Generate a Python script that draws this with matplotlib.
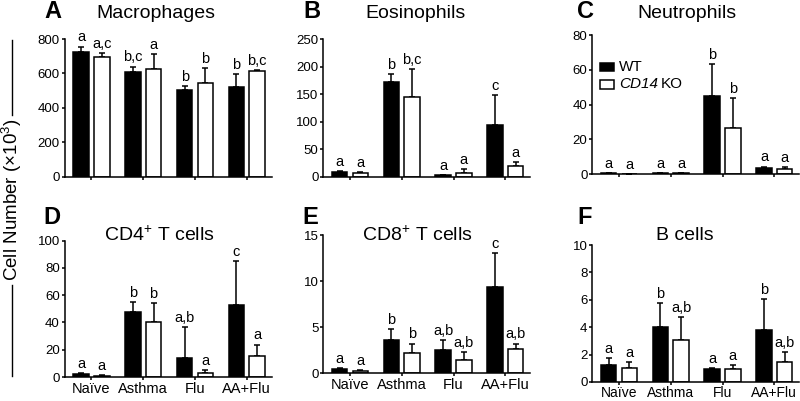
import matplotlib
matplotlib.use("Agg")
import matplotlib.pyplot as plt
from matplotlib.patches import Rectangle
from matplotlib.lines import Line2D
import numpy as np

plt.rcParams['font.family'] = ['Liberation Sans', 'DejaVu Sans']
plt.rcParams['mathtext.fontset'] = 'custom'
plt.rcParams['mathtext.rm'] = 'Liberation Sans'
plt.rcParams['mathtext.it'] = 'Liberation Sans:italic'

categories = ["Naïve", "Asthma", "Flu", "AA+Flu"]

# Panel A: Macrophages
mac_wt = [727, 610, 504, 523]
mac_wt_err = [29, 30, 25, 72]
mac_ko = [698, 624, 543, 614]
mac_ko_err = [19, 88, 87, 4]
mac_wt_lab = ["a", "b,c", "b", "b"]
mac_ko_lab = ["a,c", "a", "b", "b,c"]

# Panel B: Eosinophils
eos_wt = [8, 172, 2.4, 93]
eos_wt_err = [2, 15, 1.2, 55]
eos_ko = [7, 145, 6.7, 20]
eos_ko_err = [1.5, 51, 8, 7]
eos_wt_lab = ["a", "b", "a", "c"]
eos_ko_lab = ["a", "b,c", "a", "a"]

# Panel C: Neutrophils
neu_wt = [0.3, 0.3, 44.7, 3.5]
neu_wt_err = [0.2, 0.1, 18.8, 0.8]
neu_ko = [0.1, 0.4, 26.7, 2.7]
neu_ko_err = [0.05, 0.2, 16.9, 1.4]
neu_wt_lab = ["a", "a", "b", "a"]
neu_ko_lab = ["a", "a", "b", "a"]

# Panel D: CD4+ T cells
cd4_wt = [2.2, 47.5, 14.0, 53.0]
cd4_wt_err = [0.9, 7.3, 22.8, 31.8]
cd4_ko = [1.0, 40.5, 3.3, 15.5]
cd4_ko_err = [0.4, 14.0, 1.5, 8.3]
cd4_wt_lab = ["a", "b", "a,b", "c"]
cd4_ko_lab = ["a", "b", "a", "a"]

# Panel E: CD8+ T cells
cd8_wt = [0.44, 3.63, 2.54, 9.37]
cd8_wt_err = [0.11, 1.13, 1.02, 3.63]
cd8_ko = [0.22, 2.14, 1.38, 2.58]
cd8_ko_err = [0.07, 1.06, 0.87, 0.62]
cd8_wt_lab = ["a", "b", "a,b", "c"]
cd8_ko_lab = ["a", "b", "a,b", "a,b"]

# Panel F: B cells
bc_wt = [1.21, 4.0, 0.97, 3.8]
bc_wt_err = [0.53, 1.74, 0.07, 2.25]
bc_ko = [1.04, 3.1, 0.92, 1.45]
bc_ko_err = [0.41, 1.62, 0.29, 0.73]
bc_wt_lab = ["a", "b", "a", "b"]
bc_ko_lab = ["a", "a,b", "a", "a,b"]

series_names = ["WT", "KO"]

panels = [
    ("A", "Macrophages", mac_wt, mac_wt_err, mac_ko, mac_ko_err, mac_wt_lab, mac_ko_lab, 800, 200, (64.5, 176.7, 39), False),
    ("B", "Eosinophils", eos_wt, eos_wt_err, eos_ko, eos_ko_err, eos_wt_lab, eos_ko_lab, 250, 50, (323, 176.7, 39), False),
    ("C", "Neutrophils", neu_wt, neu_wt_err, neu_ko, neu_ko_err, neu_wt_lab, neu_ko_lab, 80, 20, (592, 174, 35), False),
    ("D", "CD4$^{+}$ T cells", cd4_wt, cd4_wt_err, cd4_ko, cd4_ko_err, cd4_wt_lab, cd4_ko_lab, 100, 20, (64.5, 377, 240.7), True),
    ("E", "CD8$^{+}$ T cells", cd8_wt, cd8_wt_err, cd8_ko, cd8_ko_err, cd8_wt_lab, cd8_ko_lab, 15, 5, (323, 373, 235), True),
    ("F", "B cells", bc_wt, bc_wt_err, bc_ko, bc_ko_err, bc_wt_lab, bc_ko_lab, 10, 2, (592, 382, 245), True),
]

W, H = 800, 401
fig = plt.figure(figsize=(8, 4.01), dpi=100)

xmin, xmax = -0.52, 3.48
unit_px = 51.8
ax_w = (xmax - xmin) * unit_px

title_pos = {"A": (156, 14), "B": (415, 14), "C": (687, 14),
             "D": (159, 235), "E": (417, 235), "F": (685, 235)}
letter_pos = {"A": (53, 11), "B": (312, 11), "C": (586, 11),
              "D": (52, 218), "E": (310, 217), "F": (585, 217)}

x = np.arange(len(categories))
off = 0.2
bw = 0.30
lw = 1.1

for (letter, title, wt, wte, ko, koe, wl, kl, ymax, step, (lpx, y0, ytop), bottom) in panels:
    ax = fig.add_axes([lpx / W, 1 - y0 / H, ax_w / W, (y0 - ytop) / H])
    ax.bar(x - off, wt, bw, color="black", edgecolor="black", linewidth=lw, zorder=2)
    ax.bar(x + off, ko, bw, color="white", edgecolor="black", linewidth=lw, zorder=2)
    ax.errorbar(x - off, wt, yerr=[np.zeros(4), wte], fmt="none", ecolor="black",
                elinewidth=lw, capsize=2.5, capthick=lw, zorder=1)
    ax.errorbar(x + off, ko, yerr=[np.zeros(4), koe], fmt="none", ecolor="black",
                elinewidth=lw, capsize=2.5, capthick=lw, zorder=1)
    for xi, v, e, t in zip(x - off, wt, wte, wl):
        ax.annotate(t, (xi, v + e), xytext=(0, 1.5), textcoords="offset points",
                    ha="center", va="bottom", fontsize=10.5)
    for xi, v, e, t in zip(x + off, ko, koe, kl):
        ax.annotate(t, (xi, v + e), xytext=(0, 1.5), textcoords="offset points",
                    ha="center", va="bottom", fontsize=10.5)
    ax.set_xlim(xmin, xmax)
    ax.set_ylim(0, ymax)
    ax.set_yticks(np.arange(0, ymax + step / 2, step))
    ax.set_xticks(x)
    if bottom:
        ax.set_xticklabels(categories, fontsize=10.5 if letter != "F" else 10)
    else:
        ax.set_xticklabels([])
    ax.spines["top"].set_visible(False)
    ax.spines["right"].set_visible(False)
    for s in ("left", "bottom"):
        ax.spines[s].set_linewidth(lw)
    ax.tick_params(axis="y", width=lw, length=2.5, labelsize=9.5, pad=0.8)
    ax.tick_params(axis="x", width=lw, length=2.5, pad=1.2 if letter != "F" else 0.2)
    ax.patch.set_visible(False)

    tx, ty = title_pos[letter]
    fig.text(tx / W, 1 - ty / H, title, ha="center", va="center", fontsize=14)
    lx, ly = letter_pos[letter]
    fig.text(lx / W, 1 - ly / H, letter, ha="center", va="center", fontsize=17, fontweight="bold")

# legend drawn manually in panel C
fig.add_artist(Rectangle((600 / W, 1 - 71 / H), 14 / W, 8 / H, transform=fig.transFigure,
                         facecolor="black", edgecolor="black", linewidth=lw))
fig.add_artist(Rectangle((600 / W, 1 - 89 / H), 14 / W, 9 / H, transform=fig.transFigure,
                         facecolor="white", edgecolor="black", linewidth=lw))
fig.text(619 / W, 1 - 67 / H, series_names[0], ha="left", va="center", fontsize=11)
t_cd = fig.text(619 / W, 1 - 84.5 / H, "CD14", ha="left", va="center", fontsize=11, style="italic")
renderer = fig.canvas.get_renderer()
bb = t_cd.get_window_extent(renderer=renderer)
fig.text((bb.x1 + 3) / W, 1 - 84.5 / H, series_names[1], ha="left", va="center", fontsize=11)

# y-axis label with lines
fig.text(12 / W, 1 - 200 / H, "Cell Number (×10$^{3}$)", rotation=90, ha="center",
         va="center", fontsize=13.5)
fig.add_artist(Line2D([12 / W, 12 / W], [1 - 40 / H, 1 - 115 / H], color="black", linewidth=1.0))
fig.add_artist(Line2D([12 / W, 12 / W], [1 - 285 / H, 1 - 376 / H], color="black", linewidth=1.0))

fig.savefig("out.png", dpi=100)
